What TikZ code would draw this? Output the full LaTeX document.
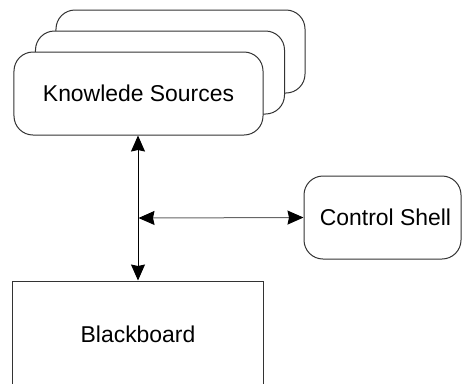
\documentclass[tikz,border=0pt]{standalone}
\usepackage{fontspec}
\setmainfont{Liberation Sans}
\usetikzlibrary{arrows.meta}
\definecolor{edge}{HTML}{333333}
\definecolor{hline}{HTML}{666666}
\begin{document}
\begin{tikzpicture}[x=1bp,y=-1bp,
  rbox/.style={draw=edge, fill=white, line width=1bp, rounded corners=19bp,
    minimum width=249bp, minimum height=83bp, inner sep=0pt,
    font=\fontsize{23}{27}\selectfont},
  sbox/.style={draw=edge, fill=white, line width=1bp, inner sep=0pt,
    font=\fontsize{23}{27}\selectfont},
  conn/.style={line width=1bp, {Stealth[length=16bp,width=14bp,inset=1.5bp,color=black]}-{Stealth[length=16bp,width=14bp,inset=1.5bp,color=black]}}
]
\useasboundingbox (0,0) rectangle (462,383);
\clip (0,0) rectangle (462,383);
\node[rbox] (ks3) at (180.5,51.5) {};
\node[rbox] (ks2) at (160,72.5) {};
\node[rbox] (ks) at (138.5,93.5) {Knowlede Sources};
\node[rbox, minimum width=157bp] (cs) at (382.5,217.5) {\hspace{6bp}Control Shell};
\node[sbox, minimum width=250bp, minimum height=106bp] (bb) at (138,334) {Blackboard};
\coordinate (j) at (138.5,218);
\draw[conn, draw=black] (ks.south -| bb.north) -- (bb.north);
\draw[conn, draw=hline] (j) -- (cs.west);
\end{tikzpicture}
\end{document}
